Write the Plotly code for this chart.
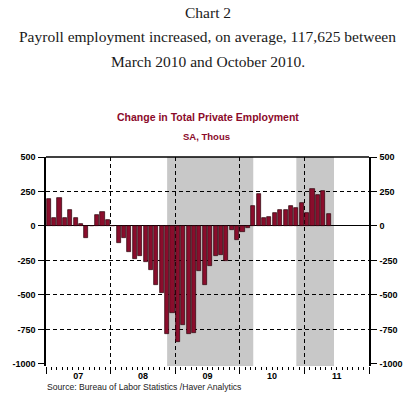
import plotly.graph_objects as go

# ---- data (thousands, monthly change, Jan 2007 .. May 2011) ----
vals_2007 = [198, 58, 203, 58, 114, 57, 12, -85, 0, 80, 102, 45]
vals_2008 = [0, -122, -85, -190, -238, -214, -262, -318, -428, -486, -785, -632]
vals_2009 = [-838, -719, -785, -778, -326, -428, -292, -219, -209, -253, -32, -100]
vals_2010 = [-40, -18, 146, 232, 57, 66, 95, 115, 115, 144, 131, 168]
vals_2011 = [95, 268, 225, 255, 86]
values = vals_2007 + vals_2008 + vals_2009 + vals_2010 + vals_2011
month_pos = [i + 0.5 for i in range(len(values))]  # month index, centred

year_labels = ["07", "08", "09", "10", "11"]
year_centres = [6, 18, 30, 42, 54]
year_bounds = [0, 12, 24, 36, 48, 60]
shade_periods = [(22.5, 38.5), (46.5, 53.5)]
y_ticks = [-1000, -750, -500, -250, 0, 250, 500]
y_grid = [-750, -500, -250, 250]

W, H = 415, 393
L, R, T, B = 42, 43, 157, 27
plot_h = H - T - B


def py(pix):
    return (H - B - pix) / plot_h


def px(pix):
    return (pix - L) / (W - L - R)


bar_red = "#8a0d2c"
title_red = "#8b0a2a"

fig = go.Figure()
fig.add_trace(go.Bar(x=month_pos, y=values, width=0.76,
                     marker=dict(color=bar_red, line=dict(color="#2a0008", width=0.7)),
                     xaxis="x", yaxis="y", showlegend=False, hoverinfo="skip"))
# invisible trace to activate secondary axes
fig.add_trace(go.Scatter(x=[0, 60], y=[-1015, 500], mode="markers",
                         marker=dict(opacity=0), xaxis="x2", yaxis="y2",
                         showlegend=False, hoverinfo="skip"))

for s0, s1 in shade_periods:
    fig.add_shape(type="rect", xref="x", yref="paper", x0=s0, x1=s1, y0=0, y1=1,
                  fillcolor="#c8c8c8", line=dict(width=0), layer="below")
# top frame line
fig.add_shape(type="line", xref="paper", yref="paper", x0=0, x1=1, y0=1, y1=1,
              line=dict(color="black", width=1.5))

tick_font = dict(family="Liberation Sans, Arial", size=9, color="black")
y_ticktext = [f"<b>{v}</b>" for v in y_ticks]

fig.update_layout(
    width=W, height=H,
    margin=dict(l=L, r=R, t=T, b=B),
    paper_bgcolor="white", plot_bgcolor="white",
    bargap=0,
    xaxis=dict(range=[0, 60], tickmode="array", tickvals=year_centres,
               ticktext=[f"<b>{t}</b>" for t in year_labels],
               ticks="", showgrid=False, zeroline=False, showline=False,
               tickfont=dict(family="Liberation Sans, Arial", size=9, color="black"),
               ticklabelstandoff=3,
               minor=dict(tickmode="linear", tick0=0, dtick=1, ticks="outside",
                          ticklen=3, tickwidth=1, tickcolor="black", showgrid=False)),
    xaxis2=dict(range=[0, 60], overlaying="x", side="bottom", anchor="y",
                tickmode="array", tickvals=year_bounds, showticklabels=False,
                ticks="outside", ticklen=7, tickwidth=1.2, tickcolor="black",
                showgrid=True, gridcolor="black", gridwidth=1, griddash="4px,3px",
                zeroline=False, showline=False),
    yaxis=dict(range=[-1015, 500], tickmode="array", tickvals=y_ticks,
               ticktext=y_ticktext,
               ticks="outside", ticklen=6, tickwidth=1, tickcolor="black",
               tickfont=tick_font, ticklabelstandoff=1,
               showgrid=False, zeroline=True, zerolinecolor="black", zerolinewidth=1.3,
               showline=True, linecolor="black", linewidth=1.5,
               minor=dict(tickmode="array", tickvals=y_grid, ticks="", showgrid=True,
                          gridcolor="black", gridwidth=1, griddash="4px,3px")),
    yaxis2=dict(range=[-1015, 500], overlaying="y", side="right", anchor="x",
                tickmode="array", tickvals=y_ticks, ticktext=y_ticktext,
                ticks="outside", ticklen=6, tickwidth=1, tickcolor="black",
                tickfont=tick_font, ticklabelstandoff=1,
                showgrid=False, zeroline=False,
                showline=True, linecolor="black", linewidth=1.5),
)

serif = dict(family="Liberation Serif, Times New Roman", size=15.5, color="#1a1a1a")
title_lines = [
    ("Chart 2", 12),
    ("Payroll employment increased, on average, 117,625 between", 37),
    ("March 2010 and October 2010.", 62),
]
for txt, ypix in title_lines:
    fig.add_annotation(text=txt, xref="paper", yref="paper", x=px(207.5), y=py(ypix),
                       xanchor="center", yanchor="middle", showarrow=False, font=serif)

fig.add_annotation(text="<b>Change in Total Private Employment</b>", xref="paper", yref="paper",
                   x=px(207), y=py(116.5), xanchor="center", yanchor="middle", showarrow=False,
                   font=dict(family="Liberation Sans, Arial", size=10.5, color=title_red))
fig.add_annotation(text="<b>SA, Thous</b>", xref="paper", yref="paper",
                   x=px(206), y=py(136.5), xanchor="center", yanchor="middle", showarrow=False,
                   font=dict(family="Liberation Sans, Arial", size=9.5, color=title_red))
fig.add_annotation(text="Source: Bureau of Labor Statistics /Haver Analytics", xref="paper",
                   yref="paper", x=px(41), y=py(386.5), xanchor="left", yanchor="middle",
                   showarrow=False,
                   font=dict(family="Liberation Sans, Arial", size=8.6, color="#222222"))

fig.write_html("out.html", config={"displayModeBar": False},
               post_script="document.body.style.margin='0';"
               "document.body.style.overflow='hidden';")
